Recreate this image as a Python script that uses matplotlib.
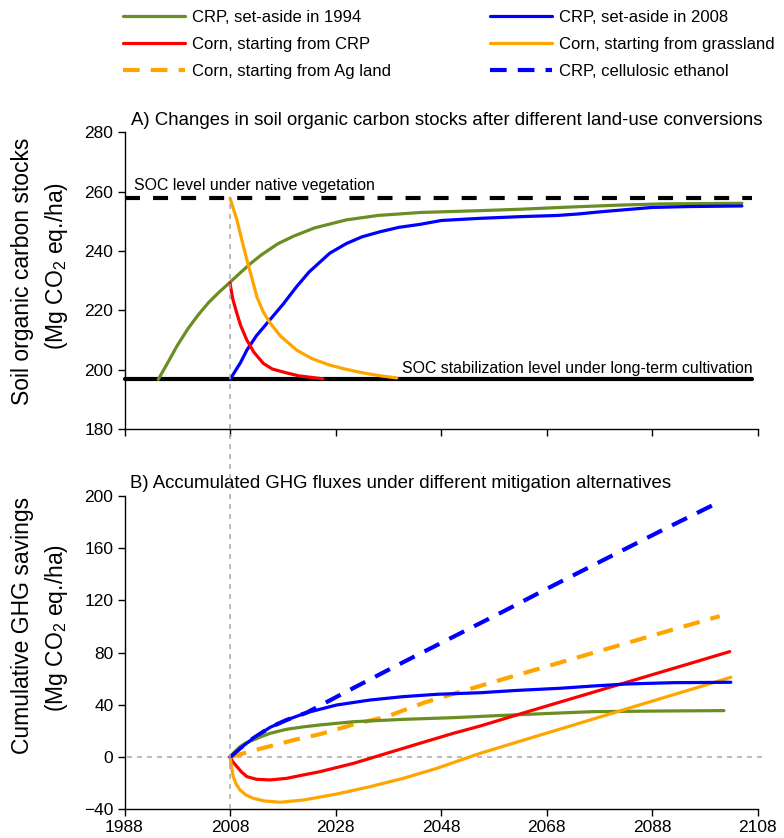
import matplotlib.pyplot as plt
import matplotlib.transforms as mtransforms
from matplotlib.lines import Line2D

plt.rcParams['font.family'] = ['Liberation Sans', 'DejaVu Sans']
plt.rcParams['mathtext.default'] = 'regular'
plt.rcParams['lines.scale_dashes'] = False

# ---- panel A: soil organic carbon stocks (Mg CO2 eq./ha)
soc_native = 257.8
soc_cultivated = 196.8

a_crp1994_yr = [1994.4, 1996, 1998, 2000, 2002, 2004, 2006, 2008, 2010, 2012, 2014, 2017, 2020,
                2024, 2030, 2036, 2044, 2055, 2063, 2072, 2082, 2090, 2105]
a_crp1994 = [196.8, 201.8, 208.2, 213.8, 218.6, 222.8, 226.3, 229.5, 232.8, 236.0, 238.8, 242.4, 245.0,
             247.8, 250.5, 252.0, 253.0, 253.6, 254.1, 254.8, 255.5, 255.9, 256.1]

a_crp2008_yr = [2008, 2010, 2011.2, 2013, 2015, 2018, 2020.6, 2023, 2026.9, 2030, 2033, 2036.4, 2040,
                2044, 2048, 2055, 2063, 2070, 2074, 2078, 2082, 2088, 2095, 2105]
a_crp2008 = [196.8, 202.5, 206.7, 211.5, 215.7, 222.0, 228.0, 233.0, 239.3, 242.5, 244.8, 246.5, 248.0,
             249.0, 250.3, 251.0, 251.6, 252.0, 252.5, 253.2, 253.8, 254.7, 255.0, 255.2]

a_corn_crp_yr = [2008, 2008.5, 2009.3, 2010, 2011.2, 2012.5, 2014.3, 2016, 2018.7, 2021, 2025.6]
a_corn_crp = [229.2, 224.0, 219.0, 215.0, 210.0, 206.0, 202.2, 200.3, 199.0, 198.0, 197.0]

a_corn_grass_yr = [2008, 2009.3, 2010.2, 2011.2, 2012.2, 2013.1, 2014.3, 2015.6, 2017.5, 2020.6, 2023.5,
                   2026.9, 2030, 2033.2, 2036.5, 2039.6]
a_corn_grass = [257.8, 250.5, 244.0, 237.0, 230.5, 224.5, 219.5, 215.8, 211.5, 206.7, 203.8,
                201.6, 200.2, 199.0, 198.0, 197.3]

# ---- panel B: cumulative GHG savings (Mg CO2 eq./ha)
b_crp1994_yr = [2008, 2009, 2009.9, 2011, 2012.4, 2014, 2015.6, 2018.7, 2022, 2025, 2031.4, 2040.8,
                2050.3, 2060, 2070, 2076.8, 2090, 2101.6]
b_crp1994 = [0, 4.5, 8.0, 10.8, 13.1, 15.8, 18.2, 21.3, 23.2, 24.6, 27.1, 28.9,
             30.2, 32.0, 33.7, 34.8, 35.3, 35.6]

b_crp2008_yr = [2008, 2009.9, 2012.4, 2015.6, 2018.7, 2022.5, 2028.2, 2034.5, 2040.8, 2047.2, 2055.4,
                2062, 2070.5, 2077, 2083.2, 2092, 2102.9]
b_crp2008 = [0, 6.7, 14.4, 22.8, 28.4, 34.0, 39.9, 43.7, 46.3, 48.1, 49.3,
             51.0, 52.7, 54.5, 56.0, 57.0, 57.3]

b_corn_crp_yr = [2008, 2008.5, 2009.3, 2010.2, 2011.2, 2013, 2015.6, 2018.7, 2021.5, 2025, 2031.4,
                 2037.7, 2044, 2050.3, 2055.4, 2065, 2075, 2085, 2095, 2102.7]
b_corn_crp = [0, -3.5, -7.3, -11.5, -15.0, -17.0, -17.5, -16.3, -14.0, -11.2, -4.8,
              2.9, 10.6, 18.2, 23.8, 35.5, 47.5, 59.5, 71.5, 80.8]

b_corn_grass_yr = [2008, 2008.3, 2008.6, 2009.2, 2009.9, 2011, 2012.4, 2014.5, 2017.5, 2021.9, 2028.2,
                   2034.5, 2040.8, 2047.2, 2055.4, 2065, 2075, 2085, 2095, 2102.9]
b_corn_grass = [0, -8.0, -15.0, -21.0, -25.2, -29.0, -31.6, -33.6, -34.6, -32.9, -28.3,
                -22.7, -16.3, -8.6, 2.9, 14.7, 26.9, 39.2, 51.4, 61.1]

b_corn_ag_yr = [2008, 2012.4, 2020, 2025, 2031.4, 2037.7, 2045, 2051.6, 2060, 2070, 2080, 2090, 2100.8]
b_corn_ag = [0, 5.0, 13.0, 17.5, 25.0, 31.0, 42.0, 50.0, 60.0, 71.8, 83.6, 95.4, 108.0]

b_cellulosic_yr = [2008, 2009.9, 2012.4, 2015.6, 2018.7, 2022.5, 2030, 2040, 2050, 2060, 2070, 2080,
                   2090, 2100]
b_cellulosic = [0, 6.7, 14.4, 22.8, 28.4, 34.0, 50.0, 71.0, 91.5, 112.0, 133.0, 153.5, 174.0, 194.0]

labels = ["CRP, set-aside in 1994", "Corn, starting from CRP", "Corn, starting from Ag land",
          "CRP, set-aside in 2008", "Corn, starting from grassland", "CRP, cellulosic ethanol"]

green = '#6B8E23'
blue = '#0000FF'
red = '#FF0000'
orange = '#FFA500'
grey = '#A8A8A8'

W, H = 784, 838
fig = plt.figure(figsize=(W / 100, H / 100), dpi=100)
ax1 = fig.add_axes([124.5 / W, 1 - 429.3 / H, 638.5 / W, 297 / H])
ax2 = fig.add_axes([124.5 / W, 1 - 809.3 / H, 638.5 / W, 313.3 / H])

solid = dict(lw=2.3, solid_capstyle='round', solid_joinstyle='round')
dashed = dict(lw=3.0, dashes=(12, 8), dash_capstyle='butt')

# ---- panel A
ax1.plot([1988, 2107], [soc_native] * 2, color='black', lw=3.0, dashes=(10.8, 9.4), clip_on=False)
ax1.plot([1988, 2107], [soc_cultivated] * 2, color='black', lw=3.0, solid_capstyle='round', clip_on=False)
ax1.plot(a_crp1994_yr, a_crp1994, color=green, **solid)
ax1.plot(a_crp2008_yr, a_crp2008, color=blue, **solid)
ax1.plot(a_corn_crp_yr, a_corn_crp, color=red, **solid)
ax1.plot(a_corn_grass_yr, a_corn_grass, color=orange, **solid)
ax1.text(1989.8, 260.6, "SOC level under native vegetation", fontsize=11.4, va='baseline')
ax1.text(2107.1, 198.9, "SOC stabilization level under long-term cultivation", fontsize=11.4,
         va='baseline', ha='right')
ax1.set_ylim(180, 280)
ax1.set_yticks([180, 200, 220, 240, 260, 280])
ax1.tick_params(labelbottom=False)
ax1.text(0.01, 1.024, "A) Changes in soil organic carbon stocks after different land-use conversions",
         transform=ax1.transAxes, fontsize=13.4, va='baseline')

# ---- panel B
ax2.plot([1988.5, 2108.8], [0, 0], color=grey, lw=1.1, dashes=(3.6, 3.6), clip_on=False)
ax2.plot(b_corn_ag_yr, b_corn_ag, color=orange, **dashed)
ax2.plot(b_cellulosic_yr, b_cellulosic, color=blue, **dashed)
ax2.plot(b_crp1994_yr, b_crp1994, color=green, **solid)
ax2.plot(b_corn_crp_yr, b_corn_crp, color=red, **solid)
ax2.plot(b_corn_grass_yr, b_corn_grass, color=orange, **solid)
ax2.plot(b_crp2008_yr, b_crp2008, color=blue, **solid)
ax2.set_ylim(-40, 200)
ax2.set_yticks([-40, 0, 40, 80, 120, 160, 200])
ax2.set_yticklabels(['\u221240', '0', '40', '80', '120', '160', '200'])
ax2.text(0.009, 1.0246, "B) Accumulated GHG fluxes under different mitigation alternatives",
         transform=ax2.transAxes, fontsize=13.4, va='baseline')

# vertical marker at 2008 through both panels
tr = mtransforms.blended_transform_factory(ax2.transData, fig.transFigure)
fig.add_artist(Line2D([2008, 2008], [1 - 809.3 / H, 1 - 198.3 / H], transform=tr, color=grey,
                      lw=1.1, dashes=(3.6, 3.6)))

for ax, lo, hi in [(ax1, 180, 280), (ax2, -40, 200)]:
    ax.set_xlim(1988, 2109)
    ax.set_xticks(range(1988, 2109, 20))
    ax.spines['top'].set_visible(False)
    ax.spines['right'].set_visible(False)
    ax.spines['bottom'].set_bounds(1988, 2108)
    ax.spines['left'].set_bounds(lo, hi)
    for s in ['bottom', 'left']:
        ax.spines[s].set_linewidth(1.0)
    ax.tick_params(direction='out', length=5, width=1.0, labelsize=12.5, pad=3)

fig.text(23 / W, 1 - 271 / H, "Soil organic carbon stocks", rotation=90, ha='center', va='center', fontsize=16.5)
fig.text(56 / W, 1 - 266 / H, "(Mg CO$_2$ eq./ha)", rotation=90, ha='center', va='center', fontsize=16.5)
fig.text(23 / W, 1 - 625 / H, "Cumulative GHG savings", rotation=90, ha='center', va='center', fontsize=16.5)
fig.text(56 / W, 1 - 628 / H, "(Mg CO$_2$ eq./ha)", rotation=90, ha='center', va='center', fontsize=16.5)

# legend, two columns
handles = [Line2D([], [], color=green, **solid),
           Line2D([], [], color=red, **solid),
           Line2D([], [], color=orange, **dashed),
           Line2D([], [], color=blue, **solid),
           Line2D([], [], color=orange, **solid),
           Line2D([], [], color=blue, **dashed)]
for i, x0 in enumerate([123, 490]):
    fig.legend(handles[3 * i:3 * i + 3], labels[3 * i:3 * i + 3], loc='upper left',
               bbox_to_anchor=(x0 / W, 1 - 10 / H), frameon=False, borderpad=0,
               borderaxespad=0, handlelength=3.7, handletextpad=0.45, labelspacing=0.72,
               fontsize=12)

fig.savefig('out.png', dpi=100)
